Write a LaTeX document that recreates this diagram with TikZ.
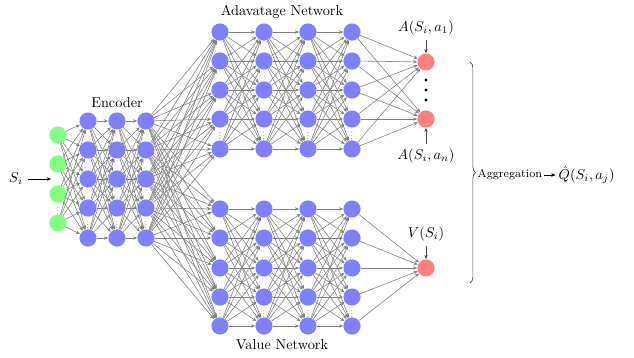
\documentclass[tikz,border=0pt]{standalone}
\usetikzlibrary{decorations.pathreplacing,arrows.meta}
\begin{document}
\begin{tikzpicture}[x=0.7pt,y=-0.7pt,
  neuron/.style={circle,minimum size=12pt,inner sep=0pt},
  hid/.style={neuron,fill=blue!50},
  inp/.style={neuron,fill=green!50},
  outn/.style={neuron,fill=red!50},
  link/.style={draw=gray,line width=0.4pt,-{Stealth[length=3pt,width=2.4pt]}},
  tag/.style={draw=black!70,line width=0.4pt,-{Stealth[length=3pt,width=2.4pt]}},
  gap/.style={inner sep=0pt,scale=0.55},
  bigdot/.style={circle,fill=black,inner sep=0pt,minimum size=2.2pt},
]
\useasboundingbox (0,0) rectangle (634,358);

% input layer
\foreach \y [count=\k] in {135,164,194,223}
  \node[inp] (I\k) at (58,\y) {};
\node[gap] (Idots) at (58,208.5) {$\vdots$};

% encoder layers
\foreach \x [count=\l] in {88,117,146}
  \foreach \y [count=\k] in {121,150,179,208,238}
    \node[hid] (E\l-\k) at (\x,\y) {};
\foreach \x [count=\l] in {88,117,146}
  \node[gap] (Edots\l) at (\x,223) {$\vdots$};

% advantage stream
\foreach \x [count=\l] in {220,264,308,352}
  \foreach \y [count=\k] in {32,61,90,119,149}
    \node[hid] (A\l-\k) at (\x,\y) {};
\foreach \x [count=\l] in {220,264,308,352}
  \node[gap] (Adots\l) at (\x,134) {$\vdots$};

% value stream
\foreach \x [count=\l] in {220,264,308,352}
  \foreach \y [count=\k] in {209,238,268,297,326}
    \node[hid] (V\l-\k) at (\x,\y) {};
\foreach \x [count=\l] in {220,264,308,352}
  \node[gap] (Vdots\l) at (\x,311.5) {$\vdots$};

% output heads
\node[outn] (O1) at (426,62) {};
\node[outn] (On) at (426,119) {};
\node[outn] (OV) at (426,268) {};
\node[bigdot] (d1) at (426,80) {};
\node[bigdot] (d2) at (426,90) {};
\node[bigdot] (d3) at (426,100) {};

% input -> encoder
\foreach \i in {1,...,4}
  \foreach \j in {1,...,5}
    \draw[link] (I\i) -- (E1-\j);
% encoder internal
\foreach \l [evaluate=\l as \m using int(\l+1)] in {1,2}
  \foreach \i in {1,...,5}
    \foreach \j in {1,...,5}
      \draw[link] (E\l-\i) -- (E\m-\j);
% encoder -> both streams
\foreach \i in {1,...,5}
  \foreach \j in {1,...,5} {
    \draw[link] (E3-\i) -- (A1-\j);
    \draw[link] (E3-\i) -- (V1-\j);
  }
% stream internals
\foreach \l [evaluate=\l as \m using int(\l+1)] in {1,2,3}
  \foreach \i in {1,...,5}
    \foreach \j in {1,...,5} {
      \draw[link] (A\l-\i) -- (A\m-\j);
      \draw[link] (V\l-\i) -- (V\m-\j);
    }
% streams -> heads
\foreach \i in {1,...,5} {
  \draw[link] (A4-\i) -- (O1);
  \draw[link] (A4-\i) -- (On);
  \draw[link] (V4-\i) -- (OV);
}

% labels
\node (lenc) at (117,103) {Encoder};
\node (ladv) at (282,12) {Adavatage Network};
\node (lval) at (282,345) {Value Network};

\node (Si) at (16,179) {$S_i$};
\coordinate (Sin) at (51,179);
\draw[tag,draw=black] (Si) -- (Sin);

\node (tA1) at (426,28) {$A(S_i,a_1)$};
\node (tAn) at (426,156) {$A(S_i,a_n)$};
\node (tV) at (426,234) {$V(S_i)$};
\draw[tag] (tA1.south) -- (O1.north);
\draw[tag] (tAn.north) -- (On.south);
\draw[tag] (tV.south) -- (OV.north);

% aggregation
\coordinate (btop) at (470,62);
\coordinate (bbot) at (470,283);
\draw[draw=black!70,line width=0.5pt,decorate,decoration={brace,amplitude=4pt}] (btop) -- (bbot);
\node[font=\footnotesize,anchor=west,inner sep=1pt] (agg) at (476,175) {Aggregation};
\node[anchor=west,inner sep=1pt] (Q) at (557,175) {$\hat{Q}(S_i,a_j)$};
\draw[tag,draw=black,shorten >=1pt] (agg.east) -- (Q.west |- agg.east);
\end{tikzpicture}
\end{document}
